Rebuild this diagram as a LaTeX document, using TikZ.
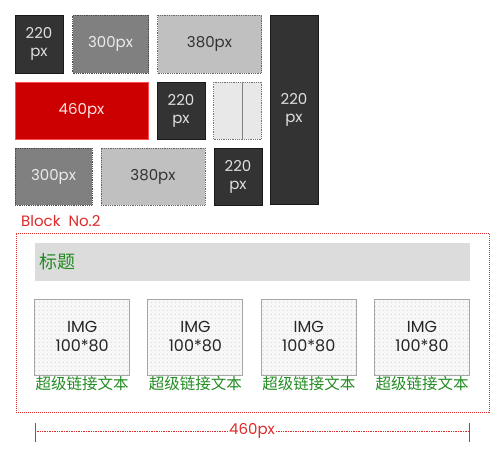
\documentclass[tikz,border=0pt]{standalone}
\usepackage{fontspec}
\setmainfont{Poppins}
\newfontfamily\cjk{Noto Sans CJK SC}
\usetikzlibrary{patterns.meta}
\definecolor{darkbox}{HTML}{333333}
\definecolor{midbox}{HTML}{808080}
\definecolor{lightbox}{HTML}{C0C0C0}
\definecolor{palebox}{HTML}{E8E8E8}
\definecolor{redbox}{HTML}{CC0000}
\definecolor{redline}{HTML}{DD2A2A}
\definecolor{linkgreen}{RGB}{34,139,34}
\definecolor{titlebar}{HTML}{DCDCDC}
\tikzset{
  box/.style={inner sep=0pt, align=center, font=\fontsize{15}{18}\selectfont},
  darkb/.style={box, fill=darkbox, draw=black!90, line width=0.8pt, text=white!88!black},
  midb/.style={box, fill=midbox, draw=black!70, densely dotted, line width=0.8pt, text=white!92!black},
  lightb/.style={box, fill=lightbox, draw=black!60, densely dotted, line width=0.8pt, text=darkbox},
  paleb/.style={box, fill=palebox, draw=black!55, densely dotted, line width=0.8pt},
  redb/.style={box, fill=redbox, draw=red!70!white, line width=0.5pt, text=white!90!red},
  imgb/.style={box, font=\fontsize{16}{19}\selectfont, fill=white!97!black, draw=black!35, line width=1pt, text=black!85,
    postaction={pattern={Dots[distance=4pt, radius=0.45pt]}, pattern color=black!30}},
  linktext/.style={inner sep=0pt, text=linkgreen, font=\cjk\fontsize{15.5}{16}\selectfont},
  redtext/.style={inner sep=0pt, text=redline, font=\fontsize{15}{18}\selectfont},
}
\begin{document}
\begin{tikzpicture}[x=1pt, y=-1pt]
\useasboundingbox (0,0) rectangle (504,458);
% row 1
\node[darkb, minimum width=48pt, minimum height=58pt] (a1) at (39,44) {220\\px};
\node[midb, minimum width=76pt, minimum height=58pt] (a2) at (110.5,44) {300px};
\node[lightb, minimum width=104pt, minimum height=58pt] (a3) at (209.5,44) {380px};
\node[darkb, minimum width=48pt, minimum height=189pt] (tall) at (294,109.5) {220\\px};
% row 2
\node[redb, minimum width=133pt, minimum height=57pt] (b1) at (81.5,110.5) {460px};
\node[darkb, minimum width=48pt, minimum height=57pt] (b2) at (181,110.5) {220\\px};
\node[paleb, minimum width=48pt, minimum height=57pt] (b3) at (237.5,110.5) {};
\draw[black!50, line width=0.8pt] (b3.north) ++(4.5,0) coordinate (dtop) -- (dtop |- b3.south);
% row 3
\node[midb, minimum width=77pt, minimum height=57pt] (c1) at (53.5,176.5) {300px};
\node[lightb, minimum width=104pt, minimum height=57pt] (c2) at (153,176.5) {380px};
\node[darkb, minimum width=48pt, minimum height=57pt] (c3) at (238,176.5) {220\\px};
% block 2
\node[redtext, anchor=base west] (blabel) at (21,226) {Block\ \ No.2};
\node[draw=redline, densely dotted, line width=1pt, minimum width=473pt, minimum height=179pt, inner sep=0pt] (outer) at (252.5,322.5) {};
\node[fill=titlebar, minimum width=435pt, minimum height=38pt, inner sep=0pt] (tbar) at (252,261.5) {};
\node[anchor=west, inner sep=0pt, text=linkgreen, font=\cjk\fontsize{18}{20}\selectfont] (title) at (39,262) {标题};
\foreach \i/\cx in {1/82.2, 2/195.4, 3/308.8, 4/422} {
  \node[imgb, minimum width=95pt, minimum height=76pt] (img\i) at (\cx,337) {IMG\\100*80};
  \node[linktext, anchor=north] (lnk\i) at ([yshift=-1pt]img\i.south) {超级链接文本};
}
% dimension
\coordinate (tl1) at (35,423); \coordinate (tl2) at (35,442);
\coordinate (tr1) at (469,423); \coordinate (tr2) at (469,442);
\coordinate (ml) at (35,431); \coordinate (mr) at (469,431);
\node[redtext, inner sep=1pt] (dim) at (252,431) {460px};
\draw[redline, line width=0.9pt] (tl1) -- (tl2);
\draw[redline, line width=0.9pt] (tr1) -- (tr2);
\draw[redline, densely dotted, line width=0.7pt] (ml) -- (dim.west);
\draw[redline, densely dotted, line width=0.7pt] (dim.east) -- (mr);
\end{tikzpicture}
\end{document}
